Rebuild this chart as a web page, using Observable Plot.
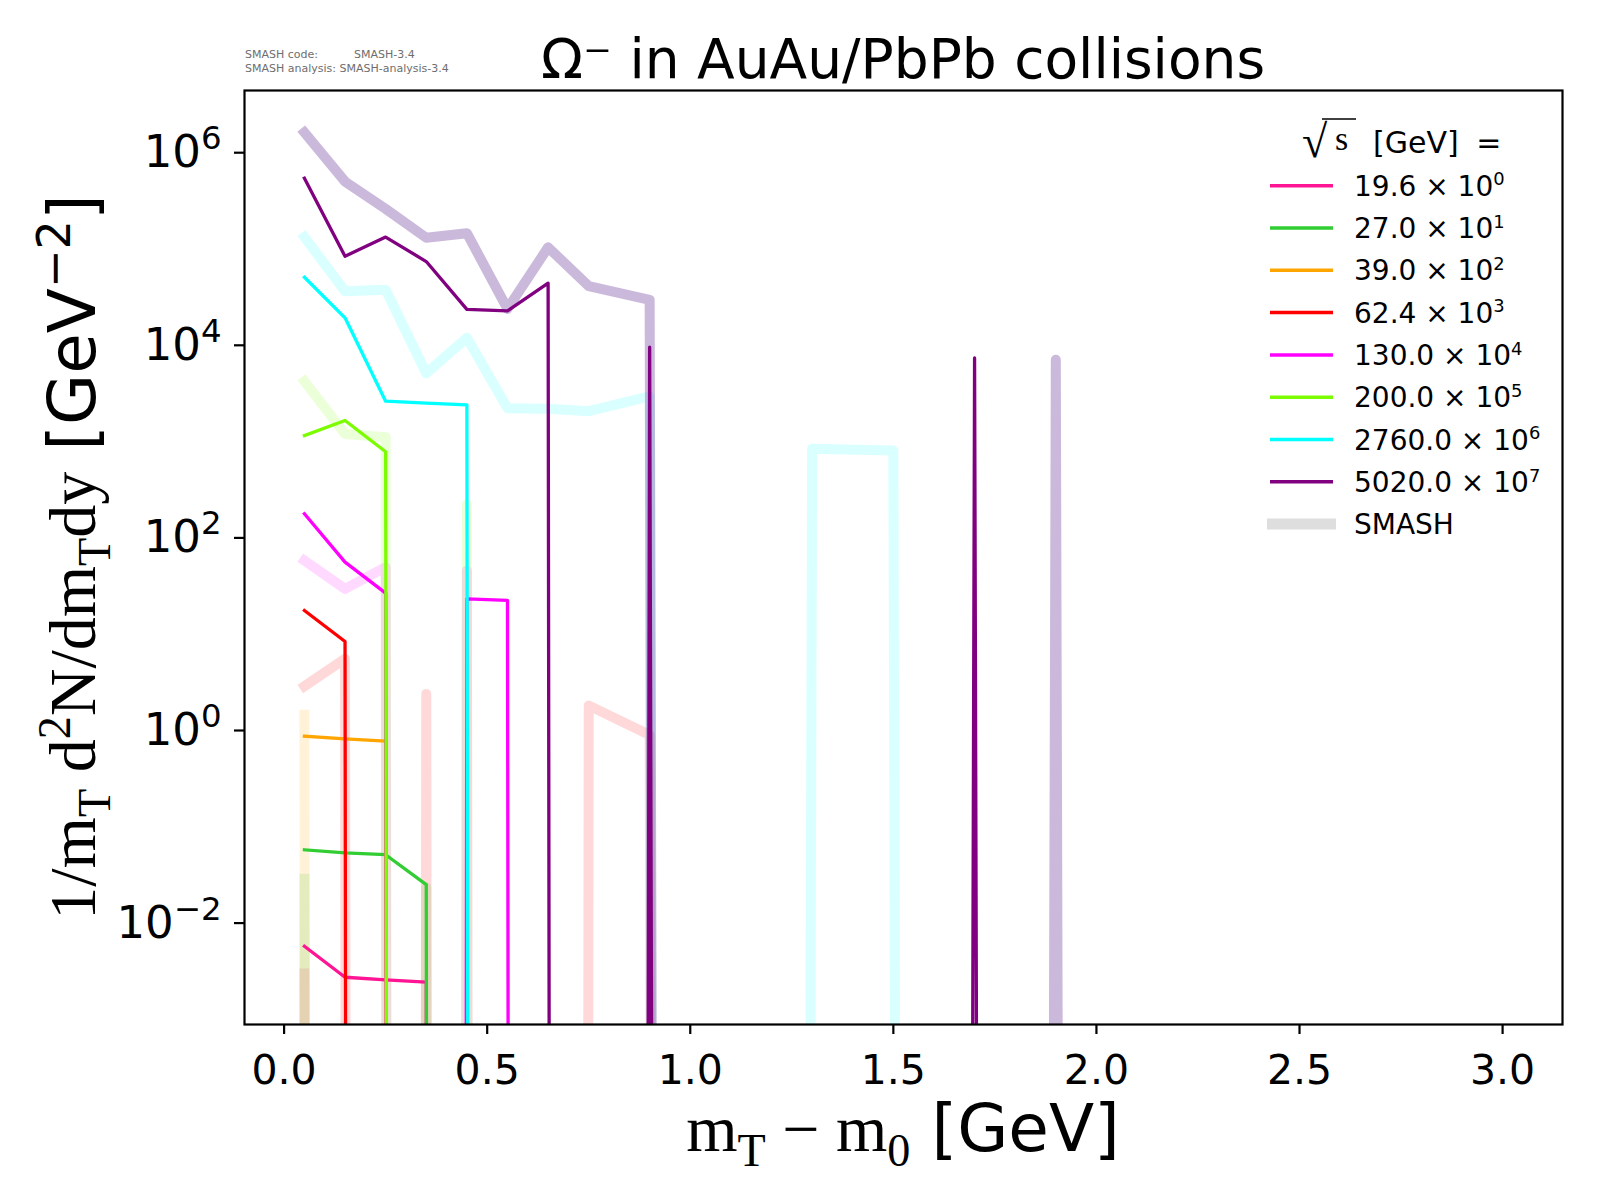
<!DOCTYPE html>
<html><head><meta charset="utf-8">
<script src="https://cdn.jsdelivr.net/npm/d3@7"></script>
<script src="https://cdn.jsdelivr.net/npm/@observablehq/plot@0.6"></script>
<style>body{margin:0;background:#fff}#chart svg{display:block}</style>
</head><body><div id="chart"></div>
<script>
// ---------- data (values as plotted, i.e. already multiplied by 10^k; 0 = no yield) ----------
const xBins = [0.05,0.15,0.25,0.35,0.45,0.55,0.65,0.75,0.9,1.1,1.3,1.5,1.7,1.9,2.1];
const energies = ["19.6","27.0","39.0","62.4","130.0","200.0","2760.0","5020.0"];
const scaleExp = [0,1,2,3,4,5,6,7];
const colors = ["deeppink","limegreen","orange","red","magenta","lawngreen","cyan","purple"];
const smashColors = ["deeppink","limegreen","orange","red","magenta","lawngreen","cyan","#663399"];
const smashOpacity = [0.15,0.15,0.15,0.15,0.15,0.15,0.15,0.34];

const exp_19_6   = [0.00575,0.00274,0.00257,0.00244,0,0,0,0,0,0,0,0,0,0,0];
const exp_27_0   = [0.0577,0.0537,0.0513,0.0251,0,0,0,0,0,0,0,0,0,0,0];
const exp_39_0   = [0.873,0.82,0.774,0,0,0,0,0,0,0,0,0,0,0,0];
const exp_62_4   = [17.6,8.4,0,0,0,0,0,0,0,0,0,0,0,0,0];
const exp_130_0  = [178,56,26.7,0,23.3,22.4,0,0,0,0,0,0,0,0,0];
const exp_200_0  = [1156,1656,785,0,0,0,0,0,0,0,0,0,0,0,0];
const exp_2760_0 = [50900,19300,2630,2510,2410,0,0,0,0,0,0,0,0,0,0];
const exp_5020_0 = [543000,84100,133000,74100,23600,22800,44200,0,9550,0,0,0,7380,0,0];

const smash_19_6   = [0.0030,0,0,0,0,0,0,0,0,0,0,0,0,0,0];
const smash_27_0   = [0.0288,0,0,0.0234,0,0,0,0,0,0,0,0,0,0,0];
const smash_39_0   = [1.46,0,0,0,0,0,0,0,0,0,0,0,0,0,0];
const smash_62_4   = [2.88,5.56,0,2.40,0,0,0,1.82,0.90,0,0,0,0,0,0];
const smash_130_0  = [58.2,29.6,49.7,0,45.7,0,0,0,0,0,0,0,0,0,0];
const smash_200_0  = [4236,1202,1112,0,224,0,0,0,0,0,0,0,0,0,0];
const smash_2760_0 = [133000,36500,37700,5130,12000,2220,2190,2070,2950,0,841,809,0,0,0];
const smash_5020_0 = [1620000,502000,261000,131000,146000,23900,104000,41100,29600,0,0,0,0,7080,0];

const expSeries = [exp_19_6,exp_27_0,exp_39_0,exp_62_4,exp_130_0,exp_200_0,exp_2760_0,exp_5020_0];
const smashSeries = [smash_19_6,smash_27_0,smash_39_0,smash_62_4,smash_130_0,smash_200_0,smash_2760_0,smash_5020_0];

const xTicks = [0,0.5,1,1.5,2,2.5,3];
const yTicks = [1e-2,1,1e2,1e4,1e6];

// ---------- helpers ----------
const CLIP = 1e-300; // like matplotlib's clipping of non-positive values on a log axis
const toRows = (arr, i) => arr.map((v, j) => ({x: xBins[j], y: v > 0 ? v : CLIP, series: energies[i]}));

const marks = [];
smashSeries.forEach((arr, i) => marks.push(Plot.line(toRows(arr, i), {
  x: "x", y: "y", stroke: smashColors[i], strokeOpacity: smashOpacity[i], strokeWidth: 10,
  strokeLinejoin: "round", strokeLinecap: "square", clip: true
})));
expSeries.forEach((arr, i) => marks.push(Plot.line(toRows(arr, i), {
  x: "x", y: "y", stroke: colors[i], strokeWidth: 3.3,
  strokeLinejoin: "round", strokeLinecap: "square", clip: true
})));

const W = 1600, H = 1200, ML = 244, MR = 38, MT = 90, MB = 176;
const TF = 45; // y tick font size
const chart = Plot.plot({
  width: W, height: H,
  marginLeft: ML, marginRight: MR, marginTop: MT, marginBottom: MB,
  style: {fontFamily: "DejaVu Sans", background: "white", color: "black"},
  x: {domain: [-0.0975, 3.1475], label: null},
  y: {type: "log", domain: [Math.pow(10, -3.053), Math.pow(10, 6.646)], label: null},
  marks: [
    ...marks,
    Plot.frame({stroke: "black", strokeWidth: 2.2}),
    Plot.axisX({ticks: xTicks, tickFormat: d3.format(".1f"), tickSize: 10, tickPadding: 20,
      fontSize: 41, strokeWidth: 2.2, label: null}),
    Plot.axisY({ticks: yTicks, tickFormat: d => "10^" + Math.round(Math.log10(d)), tickSize: 10,
      tickPadding: 13, fontSize: TF, strokeWidth: 2.2, label: null})
  ]
});
document.getElementById("chart").appendChild(chart);

const svg = d3.select(chart);
// superscript exponents of the y tick labels
svg.selectAll("text").each(function() {
  const s = this.textContent;
  const m = /^10\^(-?\d+)$/.exec(s);
  if (!m) return;
  const t = d3.select(this);
  t.text(null);
  t.append("tspan").text("10");
  t.append("tspan").attr("font-size", TF * 0.72).attr("dy", -TF * 0.4).text(m[1].replace("-", "−"));
});

// ---------- texts: title, caption, axis labels, legend ----------
const SERIF = "Liberation Serif", SANS = "DejaVu Sans";
function rich(text, parts) {
  parts.forEach(p => {
    const t = text.append("tspan").text(p.t);
    if (p.f) t.attr("font-family", p.f);
    if (p.s) t.attr("font-size", p.s);
    if (p.dy) t.attr("dy", p.dy);
  });
  return text;
}

svg.append("text").attr("x", (ML + W - MR) / 2).attr("y", 78).attr("text-anchor", "middle")
  .attr("font-family", SANS).attr("font-size", 55).attr("fill", "black").text("Ω⁻ in AuAu/PbPb collisions");

const cap = svg.append("g").attr("font-family", SANS).attr("font-size", 11).attr("fill", "#6e6e6e")
  .attr("text-anchor", "start");
cap.append("text").attr("x", 245).attr("y", 58).text("SMASH code:");
cap.append("text").attr("x", 354).attr("y", 58).text("SMASH-3.4");
cap.append("text").attr("x", 245).attr("y", 72).text("SMASH analysis: SMASH-analysis-3.4");

// x label
const FX = 66;
rich(svg.append("text").attr("x", (ML + W - MR) / 2).attr("y", 1151).attr("text-anchor", "middle")
  .attr("font-family", SERIF).attr("font-size", FX).attr("fill", "black"), [
  {t: "m"}, {t: "T", s: FX * 0.7, dy: FX * 0.22}, {t: " − m", dy: -FX * 0.22},
  {t: "0", s: FX * 0.7, dy: FX * 0.22}, {t: " [GeV]", f: SANS, dy: -FX * 0.22}
]);

// y label
const FY = 66;
rich(svg.append("text").attr("transform", `translate(95,${(MT + H - MB) / 2}) rotate(-90)`)
  .attr("text-anchor", "middle").attr("font-family", SERIF).attr("font-size", FY).attr("fill", "black"), [
  {t: "1/m"}, {t: "T", s: FY * 0.7, dy: FY * 0.22}, {t: " d", dy: -FY * 0.22},
  {t: "2", s: FY * 0.7, dy: -FY * 0.38}, {t: "N/dm", dy: FY * 0.38},
  {t: "T", s: FY * 0.7, dy: FY * 0.22}, {t: "dy", dy: -FY * 0.22},
  {t: " [GeV", f: SANS}, {t: "−2", f: SANS, s: FY * 0.7, dy: -FY * 0.38}, {t: "]", f: SANS, dy: FY * 0.38}
]);

// legend
const lg = svg.append("g").attr("text-anchor", "start");
lg.append("text").attr("x", 1302).attr("y", 157).attr("font-family", SERIF).attr("font-size", 46)
  .attr("fill", "black").text("√");
lg.append("line").attr("x1", 1322).attr("x2", 1356).attr("y1", 119).attr("y2", 119)
  .attr("stroke", "black").attr("stroke-width", 1.6);
lg.append("text").attr("x", 1335).attr("y", 150).attr("font-family", SERIF).attr("font-size", 34)
  .attr("fill", "black").text("s");
lg.append("text").attr("x", 1373).attr("y", 153).attr("font-family", SANS).attr("font-size", 30)
  .attr("fill", "black").attr("word-spacing", 8).text("[GeV] =");
const L0 = 185.7, LS = 42.3, LF = 28;
energies.forEach((e, i) => {
  const y = L0 + i * LS;
  lg.append("line").attr("x1", 1270).attr("x2", 1333).attr("y1", y).attr("y2", y)
    .attr("stroke", colors[i]).attr("stroke-width", 3.5);
  const t = lg.append("text").attr("x", 1354).attr("y", y + LF * 0.36).attr("font-family", SANS)
    .attr("font-size", LF).attr("fill", "black");
  t.append("tspan").text(`${e} × 10`);
  t.append("tspan").attr("font-size", LF * 0.64).attr("dy", -LF * 0.37).text(String(scaleExp[i]));
});
{
  const y = L0 + energies.length * LS;
  lg.append("line").attr("x1", 1267).attr("x2", 1336).attr("y1", y).attr("y2", y)
    .attr("stroke", "#dedede").attr("stroke-width", 11);
  lg.append("text").attr("x", 1354).attr("y", y + LF * 0.36).attr("font-family", SANS)
    .attr("font-size", LF).attr("fill", "black").text("SMASH");
}
</script></body></html>
